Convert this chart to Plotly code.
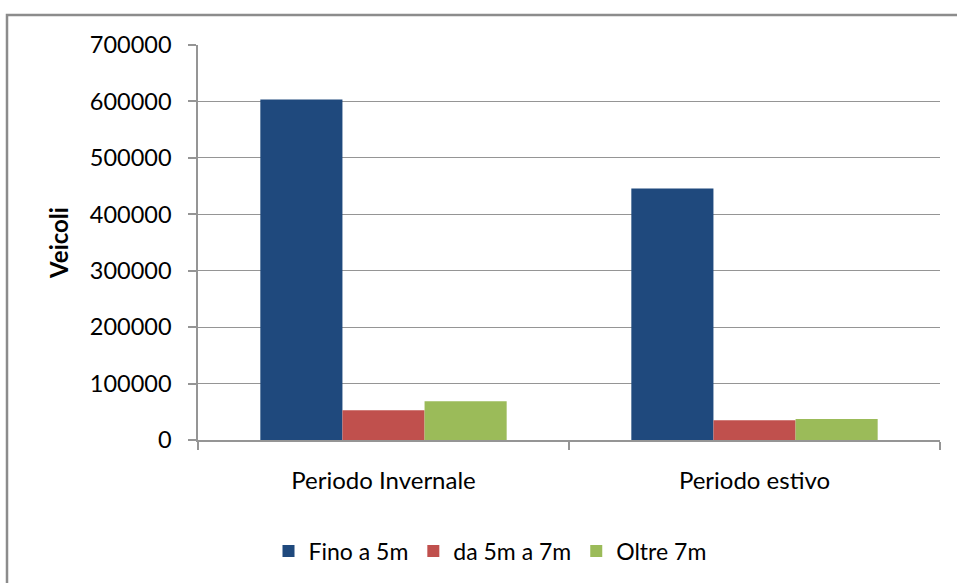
import plotly.graph_objects as go

categories = ["Periodo Invernale", "Periodo estivo"]
series_names = ["Fino a 5m", "da 5m a 7m", "Oltre 7m"]
fino_a_5m = [603500, 445500]
da_5m_a_7m = [52700, 34900]
oltre_7m = [68600, 37300]
y_ticks = [0, 100000, 200000, 300000, 400000, 500000, 600000, 700000]

colors = ["#1F497D", "#C0504D", "#9BBB59"]
font_family = "Lato, 'Open Sans', sans-serif"

fig = go.Figure()
for name, vals, col in zip(series_names, [fino_a_5m, da_5m_a_7m, oltre_7m], colors):
    fig.add_trace(go.Bar(
        x=categories, y=vals, name=name,
        marker=dict(color=col, line=dict(width=0)),
    ))

W, H = 957, 583
L, R, T, B = 198, 17, 45, 142
pw, ph = W - L - R, H - T - B

def px_x(x):
    return (x - L) / pw

def px_y(y):
    return (H - B - y) / ph

fig.update_layout(
    width=W, height=H,
    margin=dict(l=L, r=R, t=T, b=B, pad=0),
    paper_bgcolor="white", plot_bgcolor="white",
    barmode="group", bargap=0.336, bargroupgap=0,
    font=dict(family=font_family, size=23, color="#000000"),
    showlegend=True,
    legend=dict(
        orientation="h", x=px_x(490), xanchor="center",
        y=px_y(551), yanchor="middle",
        font=dict(size=23), itemwidth=30,
        bgcolor="rgba(0,0,0,0)",
    ),
    xaxis=dict(
        type="category", showgrid=False, showline=True,
        linecolor="#959595", linewidth=1.5,
        ticks="outside", tickson="boundaries", ticklen=8,
        tickcolor="#959595", tickwidth=1.5,
        ticklabelstandoff=18,
        tickfont=dict(size=24),
    ),
    yaxis=dict(
        range=[0, 700000], tickvals=y_ticks,
        ticktext=[str(v) for v in y_ticks],
        showgrid=True, gridcolor="#959595", gridwidth=1.2,
        showline=True, linecolor="#959595", linewidth=1.5,
        ticks="outside", ticklen=8, tickcolor="#959595", tickwidth=1.5,
        ticklabelstandoff=12,
        zeroline=False,
        tickfont=dict(size=23.5),
        title=dict(text="<b>Veicoli</b>", font=dict(size=24), standoff=14),
    ),
    shapes=[dict(
        type="rect", xref="paper", yref="paper",
        x0=px_x(7), x1=px_x(1000), y0=px_y(700), y1=px_y(15),
        line=dict(color="#8C8C8C", width=2.5), fillcolor="rgba(0,0,0,0)",
        layer="above",
    )],
)

fig.write_html(
    "out.html",
    config={"displayModeBar": False},
    post_script="document.body.style.margin='0';document.body.style.overflow='hidden';",
)
